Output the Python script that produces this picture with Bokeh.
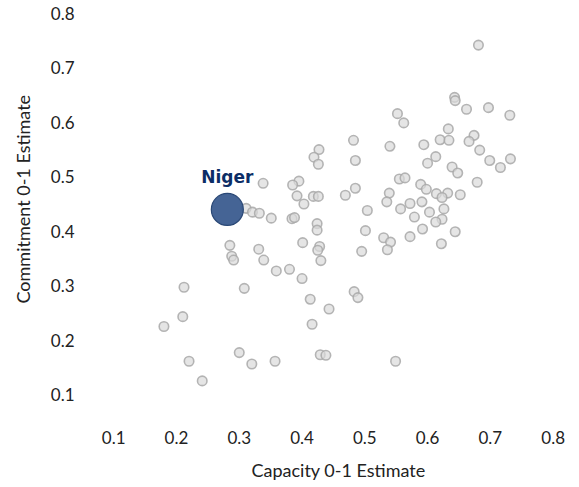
from bokeh.plotting import figure
from bokeh.models import ColumnDataSource, Range1d, FixedTicker, Title
from bokeh.core.properties import value
from bokeh.embed import file_html
from bokeh.resources import INLINE

capacity = [0.681, 0.643, 0.644, 0.662, 0.697, 0.731, 0.552, 0.562, 0.633, 0.674,
            0.666, 0.620, 0.634, 0.482, 0.540, 0.594, 0.683, 0.427, 0.419, 0.426,
            0.485, 0.613, 0.699, 0.732, 0.600, 0.716, 0.639, 0.648, 0.679, 0.555,
            0.564, 0.395, 0.385, 0.589, 0.598, 0.614, 0.632, 0.623, 0.652, 0.539,
            0.535, 0.485, 0.469, 0.392, 0.418, 0.426, 0.403, 0.572, 0.591, 0.557,
            0.603, 0.626, 0.504, 0.384, 0.388, 0.579, 0.623, 0.613, 0.424, 0.424,
            0.501, 0.592, 0.644, 0.401, 0.428, 0.425, 0.430, 0.530, 0.541, 0.536,
            0.572, 0.622, 0.495, 0.380, 0.400, 0.338, 0.311, 0.321, 0.332, 0.351,
            0.285, 0.288, 0.291, 0.331, 0.339, 0.359, 0.212, 0.308, 0.210, 0.180,
            0.220, 0.300, 0.320, 0.357, 0.241, 0.413, 0.443, 0.483, 0.489, 0.416,
            0.429, 0.438, 0.549]
commitment = [0.742, 0.646, 0.640, 0.624, 0.627, 0.613, 0.616, 0.599, 0.588, 0.576,
              0.565, 0.568, 0.567, 0.567, 0.556, 0.559, 0.549, 0.550, 0.536, 0.523,
              0.530, 0.537, 0.530, 0.533, 0.525, 0.517, 0.518, 0.507, 0.490, 0.496,
              0.498, 0.492, 0.485, 0.486, 0.477, 0.469, 0.470, 0.462, 0.467, 0.470,
              0.454, 0.479, 0.466, 0.465, 0.464, 0.464, 0.450, 0.451, 0.454, 0.441,
              0.435, 0.441, 0.438, 0.423, 0.425, 0.426, 0.422, 0.417, 0.414, 0.402,
              0.401, 0.404, 0.399, 0.379, 0.372, 0.365, 0.346, 0.388, 0.380, 0.366,
              0.390, 0.377, 0.363, 0.330, 0.313, 0.488, 0.442, 0.435, 0.433, 0.424,
              0.374, 0.354, 0.347, 0.367, 0.347, 0.327, 0.297, 0.295, 0.243, 0.225,
              0.161, 0.177, 0.156, 0.161, 0.125, 0.275, 0.257, 0.289, 0.278, 0.229,
              0.173, 0.172, 0.161]

highlight_name = ["Niger"]
highlight_capacity = [0.281]
highlight_commitment = [0.440]

tick_values = [0.1, 0.2, 0.3, 0.4, 0.5, 0.6, 0.7, 0.8]

FONT = "Lato"

p = figure(frame_width=495, frame_height=418,
           x_range=Range1d(0.0487, 0.8372), y_range=Range1d(0.0412, 0.8092),
           output_backend="svg", toolbar_location=None,
           min_border_left=80, min_border_right=0, min_border_top=8, min_border_bottom=0)
p.outline_line_color = None
p.grid.grid_line_color = None
p.background_fill_color = "white"
p.border_fill_color = "white"

for ax in (p.xaxis[0], p.yaxis[0]):
    ax.ticker = FixedTicker(ticks=tick_values)
    ax.axis_line_color = None
    ax.major_tick_line_color = None
    ax.minor_tick_line_color = None
    ax.major_tick_out = 0
    ax.major_tick_in = 0
    ax.minor_tick_out = 0
    ax.major_label_text_font = FONT
    ax.major_label_text_font_size = "17px"
    ax.major_label_text_color = "#222222"
p.yaxis[0].major_label_standoff = 7
p.xaxis[0].major_label_standoff = 4

src = ColumnDataSource(dict(x=capacity, y=commitment))
p.scatter("x", "y", source=src, size=9.5, fill_color="#dadada", fill_alpha=0.7,
          line_color="#a8a8a8", line_alpha=0.85, line_width=1.6)

hsrc = ColumnDataSource(dict(x=highlight_capacity, y=highlight_commitment, name=highlight_name))
p.scatter("x", "y", source=hsrc, size=32, fill_color="#3b5c8f", fill_alpha=0.95,
          line_color="#2a4876", line_width=1.2)
p.text("x", "y", text="name", source=hsrc, text_font=value("DejaVu Sans"),
       text_font_style="bold", text_font_size="17px", text_color="#0c2d66",
       text_align="center", text_baseline="alphabetic", y_offset=-32)

xt = Title(text="Capacity 0-1 Estimate", align="left", offset=170, standoff=21,
           text_font=FONT, text_font_size="18px", text_font_style="normal",
           text_color="#222222")
p.add_layout(xt, "below")
yt = Title(text="Commitment 0-1 Estimate", align="left", offset=123, standoff=23,
           vertical_align="top",
           text_font=FONT, text_font_size="18px", text_font_style="normal",
           text_color="#222222")
p.add_layout(yt, "left")

open("out.html", "w").write(file_html(p, INLINE))
